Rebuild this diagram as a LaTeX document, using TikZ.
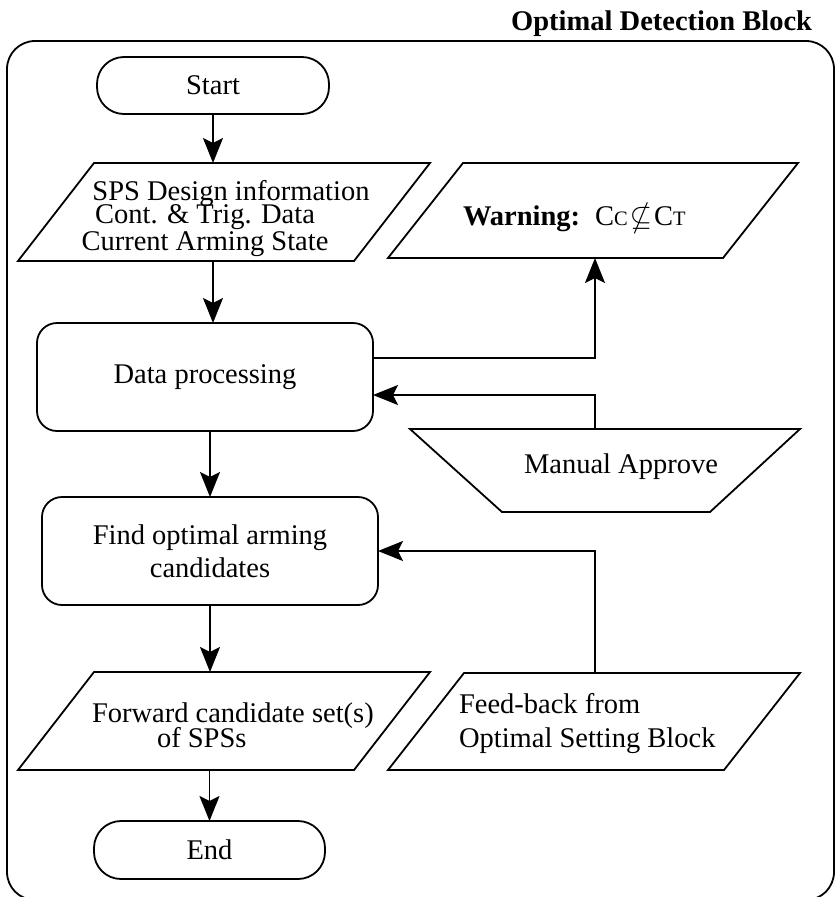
\documentclass[tikz,border=0pt]{standalone}
\usepackage{fontspec}
\setmainfont{Liberation Serif}
\usepackage{amssymb}
\usetikzlibrary{arrows.meta}

\newcommand{\smallcap}[1]{{\fontsize{20.5}{20.5}\selectfont #1}}
% slanted data box drawn over the frame of an invisible node
\newcommand{\ioshape}[2]{\draw ([xshift=#2]#1.north west) -- (#1.north east)
  -- ([xshift=-#2]#1.south east) -- (#1.south west) -- cycle;}

\begin{document}
\begin{tikzpicture}[x=1pt,y=-1pt,
  line width=1.8pt,
  every node/.style={font=\fontsize{28.5}{31}\selectfont, inner sep=0pt, outer sep=0pt},
  terminal/.style={draw, rounded corners=27pt, minimum width=232pt, minimum height=57pt},
  process/.style={draw, rounded corners=20pt, minimum width=336pt, minimum height=108pt, align=center},
  iobox/.style={minimum width=412pt, minimum height=98pt},
  flow/.style={-{Stealth[length=25pt,width=20pt,inset=5pt]}},
]
\useasboundingbox (0,0) rectangle (837,897);

% block frame and its title
\node[draw, rounded corners=28pt, minimum width=827pt, minimum height=859pt] (frame) at (420.5,470.5) {};
\node[anchor=base east] (title) at (812,30) {\textbf{Optimal Detection Block}};

% main column
\node[terminal] (start) at (213,85.5) {Start};
\node[iobox] (sps) at (224,212) {};
\ioshape{sps}{76pt}
\node[anchor=base, align=center] (spstxt) at (205,250)
  {\hspace*{52pt}SPS Design information\\[-8pt]
   Cont. \& Trig. Data\\[-4pt]
   Current Arming State};
\node[process] (dp) at (205,377) {Data processing};
\node[process] (find) at (210,551) {Find optimal arming\\[2pt]candidates};
\node[iobox] (fwd) at (224,721) {};
\ioshape{fwd}{76pt}
\node[anchor=base west, align=left] (fwdtxt) at (92,747)
  {Forward candidate set(s)\\[-6pt]\hspace*{65pt}of SPSs};
\node[terminal, minimum width=231pt, minimum height=58pt] (end) at (209.5,850) {End};

% side column
\node[iobox, minimum width=410pt, minimum height=95pt] (warn) at (593,210.5) {};
\ioshape{warn}{75pt}
\node[anchor=base west] (warntxt) at (463,225)
  {\textbf{Warning:}\hspace{15pt}C\smallcap{C}\hspace{2pt}$\nsubseteq$\hspace{2pt}C\smallcap{T}};
\node[minimum width=390pt, minimum height=83pt] (man) at (605,470.5) {};
\draw (man.north west) -- (man.north east) -- ([xshift=-90pt]man.south east)
  -- ([xshift=92pt]man.south west) -- cycle;
\node (mantxt) at (621,467) {Manual Approve};
\node[iobox, minimum height=97pt] (fb) at (594,721.5) {};
\ioshape{fb}{76pt}
\node[anchor=base west, align=left] (fbtxt) at (459,747)
  {Feed-back from\\[3pt]Optimal Setting Block};

% connectors
\coordinate (rail) at (595,300);
\coordinate (dpout) at ([yshift=19pt]dp.east);
\coordinate (dpin) at ([yshift=-18pt]dp.east);

\draw[flow] (start.south) -- (start.south |- sps.north);
\draw[flow] (sps.south -| start) -- (dp.north -| start);
\draw[flow] (dp.south -| find) -- (find.north);
\draw[flow] (find.south) -- (find.south |- fwd.north);
\draw[flow] (fwd.south -| end) -- (end.north);
\draw[flow] (dpout) -| (warn.south -| rail);
\draw[flow] (man.north -| rail) |- (dpin);
\draw[flow] (fb.north -| rail) |- (find.east);
\end{tikzpicture}
\end{document}
